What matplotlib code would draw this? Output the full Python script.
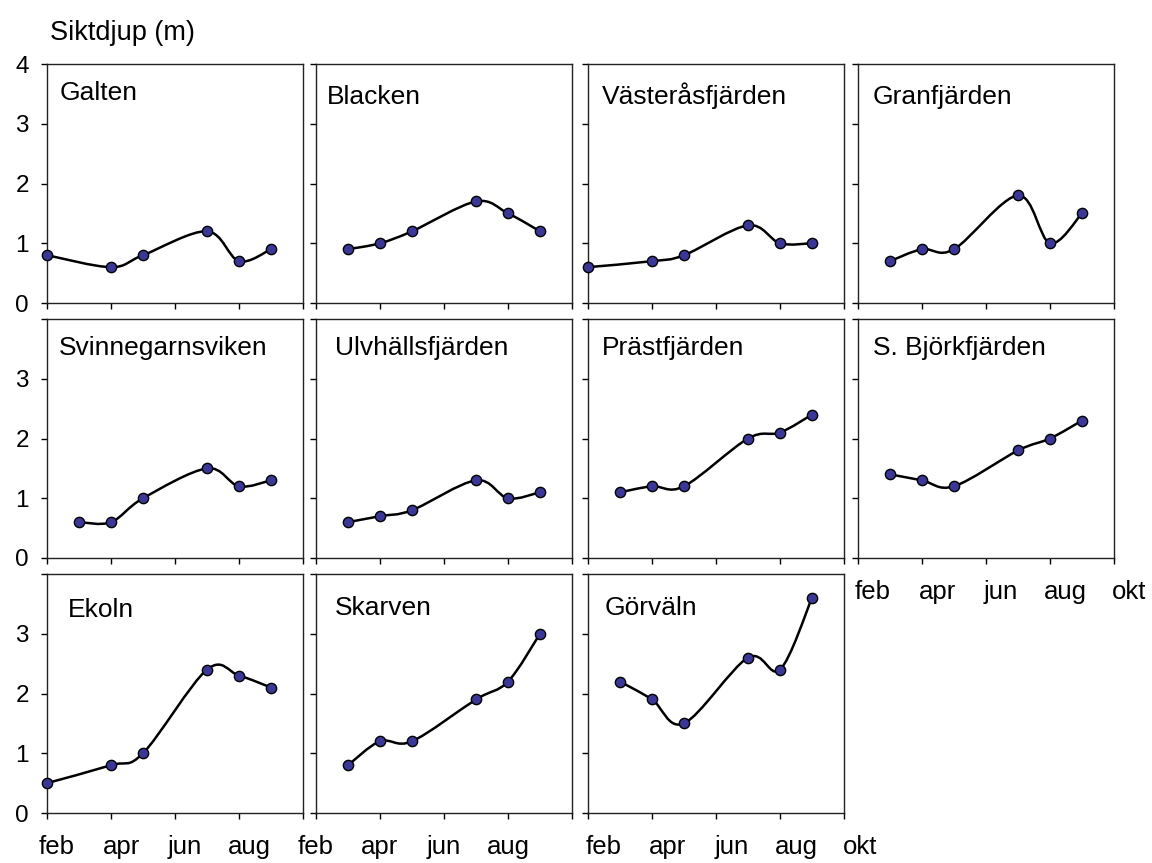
import matplotlib
matplotlib.use("Agg")
import matplotlib.pyplot as plt
from matplotlib.path import Path
from matplotlib.patches import PathPatch

plt.rcParams['font.family'] = ['Liberation Sans', 'DejaVu Sans']

# sampling months (2 = feb ... 9 = sep)
months_feb = [2, 4, 5, 7, 8, 9]
months_mar = [3, 4, 5, 7, 8, 9]

tick_months = [2, 4, 6, 8, 10]
tick_names = ['feb', 'apr', 'jun', 'aug', 'okt']

# Secchi depth (m) per basin
galten = [0.8, 0.6, 0.8, 1.2, 0.7, 0.9]
blacken = [0.9, 1.0, 1.2, 1.7, 1.5, 1.2]
vasterasfjarden = [0.6, 0.7, 0.8, 1.3, 1.0, 1.0]
granfjarden = [0.7, 0.9, 0.9, 1.8, 1.0, 1.5]
svinnegarnsviken = [0.6, 0.6, 1.0, 1.5, 1.2, 1.3]
ulvhallsfjarden = [0.6, 0.7, 0.8, 1.3, 1.0, 1.1]
prastfjarden = [1.1, 1.2, 1.2, 2.0, 2.1, 2.4]
bjorkfjarden = [1.4, 1.3, 1.2, 1.8, 2.0, 2.3]
ekoln = [0.5, 0.8, 1.0, 2.4, 2.3, 2.1]
skarven = [0.8, 1.2, 1.2, 1.9, 2.2, 3.0]
gorvaln = [2.2, 1.9, 1.5, 2.6, 2.4, 3.6]

panels = [
    ('Galten', months_feb, galten),
    ('Blacken', months_mar, blacken),
    ('Västeråsfjärden', months_feb, vasterasfjarden),
    ('Granfjärden', months_mar, granfjarden),
    ('Svinnegarnsviken', months_mar, svinnegarnsviken),
    ('Ulvhällsfjärden', months_mar, ulvhallsfjarden),
    ('Prästfjärden', months_mar, prastfjarden),
    ('S. Björkfjärden', months_mar, bjorkfjarden),
    ('Ekoln', months_feb, ekoln),
    ('Skarven', months_mar, skarven),
    ('Görväln', months_mar, gorvaln),
]

# panel layout in pixels
W, H = 1152, 863
lefts = [47, 316, 588, 858]
tops = [64, 319, 574]
pw, ph = 256, 239

# title offset (px from upper-left corner of the panel)
title_pos = [(13, 36), (11, 40), (14, 40), (15, 40),
             (12, 36), (19, 36), (14, 36), (15, 36),
             (21, 43), (19, 41), (17, 41)]

# month labels under some panels: panel index -> (x shift px, show okt)
month_axis = {7: (15, True), 8: (10, False), 9: (0, False), 10: (16, True)}


def smooth_path(x, y):
    # Bezier spline through the points, like a spreadsheet "smoothed line"
    pts = list(zip(x, y))
    n = len(pts)
    verts = [pts[0]]
    codes = [Path.MOVETO]
    for i in range(n - 1):
        p0 = pts[max(i - 1, 0)]
        p1 = pts[i]
        p2 = pts[i + 1]
        p3 = pts[min(i + 2, n - 1)]
        c1 = (p1[0] + (p2[0] - p0[0]) / 6, p1[1] + (p2[1] - p0[1]) / 6)
        c2 = (p2[0] - (p3[0] - p1[0]) / 6, p2[1] - (p3[1] - p1[1]) / 6)
        verts += [c1, c2, p2]
        codes += [Path.CURVE4] * 3
    return Path(verts, codes)


fig = plt.figure(figsize=(W / 100, H / 100), dpi=100)

for i, (name, x, y) in enumerate(panels):
    row, col = divmod(i, 4)
    ax = fig.add_axes([lefts[col] / W, 1 - (tops[row] + ph) / H, pw / W, ph / H])
    ax.set_xlim(2, 10)
    ax.set_ylim(0, 4)

    ax.add_patch(PathPatch(smooth_path(x, y), facecolor='none',
                           edgecolor='black', linewidth=1.8, zorder=2))
    ax.plot(x, y, linestyle='none', marker='o', markersize=7.4,
            markerfacecolor='#3b3796', markeredgecolor='black',
            markeredgewidth=1.0, clip_on=False, zorder=3)

    ax.set_xticks(tick_months)
    ax.set_xticklabels([])
    ax.set_yticks(range(5))
    if col == 0:
        labels = ['0', '1', '2', '3', '4'] if row == 0 else ['0', '1', '2', '3', '']
        ax.set_yticklabels(labels, fontsize=17.5)
    else:
        ax.set_yticklabels([])
    ax.tick_params(direction='out', length=4, width=1, pad=9, colors='black')
    for s in ax.spines.values():
        s.set_linewidth(1.0)
        s.set_color('#222222')

    dx, dy = title_pos[i]
    ax.annotate(name, xy=(0, 1), xycoords='axes fraction',
                xytext=(dx, -dy), textcoords='offset pixels',
                ha='left', va='baseline', fontsize=19)

    if i in month_axis:
        shift, show_okt = month_axis[i]
        for m, lab in zip(tick_months, tick_names):
            if lab == 'okt' and not show_okt:
                continue
            ax.annotate(lab, xy=(m, 0), xycoords=('data', 'axes fraction'),
                        xytext=(shift, -34), textcoords='offset pixels',
                        ha='center', va='center', fontsize=18.5)

fig.text(50 / W, 1 - 33 / H, 'Siktdjup (m)', ha='left', va='center', fontsize=19.5)

fig.savefig('out.png', dpi=100)
